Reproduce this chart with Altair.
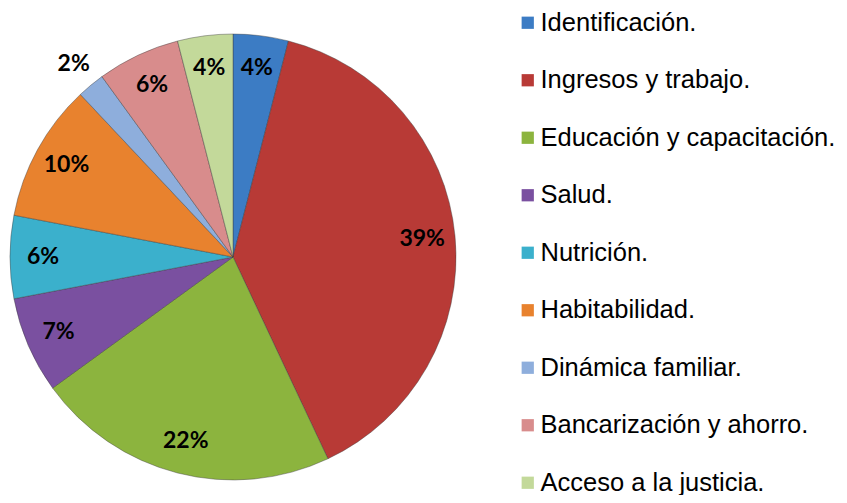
import altair as alt
import pandas as pd

categories = [
    "Identificación.",
    "Ingresos y trabajo.",
    "Educación y capacitación.",
    "Salud.",
    "Nutrición.",
    "Habitabilidad.",
    "Dinámica familiar.",
    "Bancarización y ahorro.",
    "Acceso a la justicia.",
]
values = [4, 39, 22, 7, 6, 10, 2, 6, 4]
colors = ["#3C7CC4", "#B83A36", "#8CB43E", "#7A50A0", "#3BB0CC",
          "#E8822E", "#8EAEDC", "#D88C8C", "#C3D99A"]

df = pd.DataFrame({
    "cat": categories,
    "value": values,
    "idx": list(range(len(categories))),
})
df["label"] = df["value"].astype(str) + "%"

CX, CY = 225, 249
R = 223

base = alt.Chart(df).encode(
    theta=alt.Theta("value:Q", stack=True),
    order=alt.Order("idx:Q"),
    x=alt.value(CX),
    y=alt.value(CY),
)

arcs = base.mark_arc(outerRadius=R, stroke="#3a3a3a", strokeWidth=0.7, strokeOpacity=0.6).encode(
    color=alt.Color(
        "cat:N",
        sort=categories,
        scale=alt.Scale(domain=categories, range=colors),
        legend=alt.Legend(
            title=None,
            orient="none",
            legendX=507,
            legendY=2,
            symbolType="square",
            symbolSize=150,
            symbolStrokeWidth=0,
            labelFont="Liberation Sans",
            labelFontSize=25.5,
            labelColor="#000000",
            labelLimit=400,
            labelOffset=0,
            rowPadding=30.5,
        ),
    ),
)

inner = base.mark_text(radius=190, font="Lato", fontWeight="bold", fontSize=23,
                       color="#000000").encode(
    text=alt.Text("lbl_in:N"),
).transform_calculate(lbl_in="datum.value >= 3 ? datum.label : ''")

outer = base.mark_text(radius=250, font="Lato", fontWeight="bold", fontSize=23,
                       color="#000000").encode(
    text=alt.Text("lbl_out:N"),
).transform_calculate(lbl_out="datum.value < 3 ? datum.label : ''")

chart = alt.layer(arcs, inner, outer).properties(
    width=831,
    height=487,
    padding=0,
    autosize=alt.AutoSizeParams(type="none"),
).configure_view(stroke=None)

chart.save("out.html", embed_options={"renderer": "svg", "actions": False})
